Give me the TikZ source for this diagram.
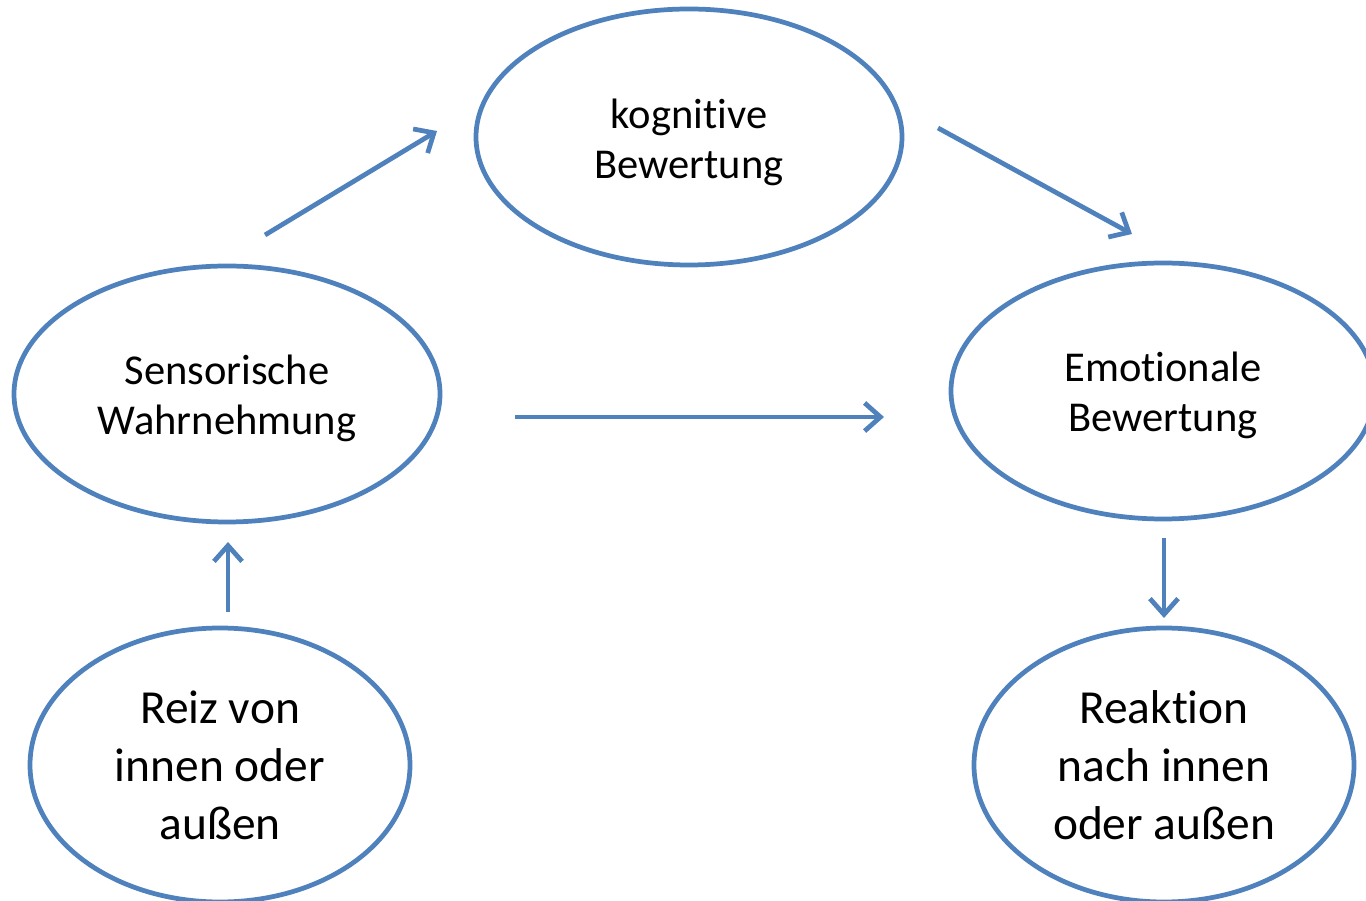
\documentclass[tikz,border=0pt]{standalone}
\usepackage{fontspec}
\setmainfont[Ligatures=NoCommon]{Carlito}
\usetikzlibrary{shapes.geometric,arrows.meta}
\definecolor{ablue}{HTML}{4F81BD}
\tikzset{
  ell/.style={draw=ablue, line width=2.7pt, ellipse, inner sep=0pt, align=center},
  smalltext/.style={font=\fontsize{24.2}{28.5}\selectfont},
  bigtext/.style={font=\fontsize{27}{33}\selectfont},
  arr/.style={draw=ablue, line width=2.7pt, -{Straight Barb[length=9pt,width=16pt,line width=2.7pt]}}
}
\begin{document}
\begin{tikzpicture}[x=0.02cm,y=-0.02cm]
\useasboundingbox (0,0) rectangle (1366,901);
\clip (0,0) rectangle (1366,901);
\node[ell,minimum width=426*0.02cm,minimum height=256*0.02cm] (kog) at (689,137) {};
\node[smalltext,align=center] (kogt) at (689,142) {kognitive\\Bewertung};
\node[ell,minimum width=426*0.02cm,minimum height=256*0.02cm] (sens) at (227,394) {};
\node[smalltext,align=center] (senst) at (227,398) {Sensorische\\Wahrnehmung};
\node[ell,minimum width=424*0.02cm,minimum height=256*0.02cm] (emo) at (1163,391) {};
\node[smalltext,align=center] (emot) at (1163,395) {Emotionale\\Bewertung};
\node[ell,bigtext,minimum width=380*0.02cm,minimum height=274*0.02cm] (reiz) at (220,765) {Reiz von\\innen oder\\außen};
\node[ell,bigtext,minimum width=380*0.02cm,minimum height=274*0.02cm] (reak) at (1164,765) {Reaktion\\nach innen\\oder außen};
\coordinate (a1s) at (265,235);
\coordinate (a1e) at (437,131);
\coordinate (a2s) at (938,128);
\coordinate (a2e) at (1132,234);
\coordinate (a3s) at (515,417);
\coordinate (a3e) at (884,417);
\coordinate (a4s) at (228,612);
\coordinate (a4e) at (228,542);
\coordinate (a5s) at (1164,538);
\coordinate (a5e) at (1164,618);
\draw[arr] (a1s) -- (a1e);
\draw[arr] (a2s) -- (a2e);
\draw[arr] (a3s) -- (a3e);
\draw[arr] (a4s) -- (a4e);
\draw[arr] (a5s) -- (a5e);
\end{tikzpicture}
\end{document}
